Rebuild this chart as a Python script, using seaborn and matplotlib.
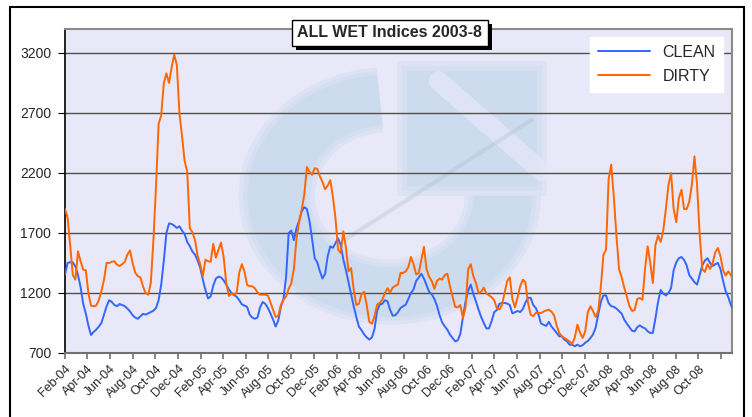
import pandas as pd
import matplotlib
matplotlib.use("Agg")
import matplotlib.pyplot as plt
import matplotlib.patheffects as pe
from matplotlib.patches import Rectangle, Wedge
from matplotlib.transforms import Affine2D
import seaborn as sns

# weekly index values, starting 2004-02-01
clean = [
    1353, 1450, 1456, 1456, 1420, 1350, 1250, 1110, 1030, 930,
    850, 875, 895, 920, 950, 1020, 1089, 1140, 1125, 1100,
    1090, 1108, 1100, 1090, 1070, 1047, 1015, 995, 985, 1006,
    1026, 1020, 1030, 1042, 1053, 1075, 1140, 1270, 1470, 1700,
    1780, 1775, 1761, 1742, 1756, 1720, 1690, 1625, 1590, 1545,
    1520, 1470, 1410, 1311, 1225, 1155, 1170, 1260, 1320, 1336,
    1330, 1305, 1270, 1230, 1200, 1183, 1168, 1140, 1105, 1095,
    1085, 1020, 995, 985, 995, 1080, 1125, 1110, 1075, 1030,
    978, 920, 970, 1085, 1150, 1330, 1700, 1720, 1640, 1740,
    1800, 1880, 1915, 1900, 1800, 1650, 1490, 1455, 1380, 1320,
    1360, 1506, 1589, 1576, 1615, 1655, 1600, 1480, 1390, 1290,
    1190, 1089, 1000, 920, 890, 855, 830, 812, 830, 900,
    1050, 1103, 1110, 1140, 1130, 1060, 1010, 1015, 1040, 1075,
    1089, 1103, 1150, 1200, 1230, 1300, 1330, 1360, 1320, 1265,
    1210, 1190, 1150, 1095, 1015, 955, 922, 894, 853, 825,
    797, 805, 860, 1000, 1130, 1220, 1270, 1190, 1130, 1060,
    1000, 950, 905, 905, 965, 1040, 1058, 1110, 1117, 1117,
    1112, 1100, 1030, 1040, 1050, 1041, 1065, 1120, 1160, 1160,
    1100, 1075, 1025, 945, 936, 925, 960, 922, 895, 868,
    839, 839, 811, 797, 769, 769, 756, 769, 756, 765,
    785, 800, 825, 855, 910, 1020, 1125, 1180, 1180, 1115,
    1090, 1085, 1070, 1050, 1028, 978, 945, 915, 885, 880,
    915, 930, 915, 905, 881, 867, 867, 990, 1125, 1225,
    1195, 1180, 1200, 1240, 1390, 1455, 1490, 1500, 1475, 1430,
    1350, 1320, 1290, 1270, 1350, 1430, 1470, 1490, 1450, 1425,
    1440, 1450, 1400, 1300, 1215, 1165, 1100, 1055,
]
dirty = [
    1900, 1830, 1600, 1350, 1311, 1547, 1464, 1394, 1390, 1200,
    1095, 1089, 1095, 1140, 1215, 1310, 1450, 1450, 1460, 1465,
    1435, 1425, 1440, 1460, 1520, 1555, 1450, 1370, 1340, 1330,
    1255, 1200, 1186, 1283, 1640, 2090, 2610, 2680, 2950, 3030,
    2950, 3080, 3186, 3100, 2700, 2506, 2300, 2210, 1740, 1705,
    1640, 1510, 1440, 1340, 1478, 1465, 1460, 1610, 1495, 1560,
    1620, 1500, 1280, 1175, 1195, 1186, 1200, 1370, 1440, 1380,
    1268, 1256, 1256, 1240, 1205, 1186, 1186, 1186, 1180, 1120,
    1060, 1000, 1010, 1100, 1144, 1170, 1235, 1280, 1400, 1650,
    1790, 1895, 2020, 2250, 2210, 2185, 2240, 2235, 2172, 2125,
    2065, 2095, 2140, 2000, 1820, 1560, 1533, 1714, 1580, 1380,
    1408, 1230, 1100, 1110, 1190, 1210, 1100, 960, 944, 1006,
    1103, 1117, 1144, 1200, 1240, 1205, 1245, 1260, 1270, 1367,
    1367, 1380, 1415, 1500, 1440, 1355, 1367, 1478, 1585, 1400,
    1335, 1300, 1235, 1300, 1320, 1311, 1350, 1360, 1256, 1170,
    1085, 1080, 1100, 990, 1080, 1400, 1440, 1339, 1283, 1200,
    1210, 1245, 1196, 1180, 1165, 1140, 1075, 1062, 1100, 1200,
    1300, 1330, 1150, 1080, 1165, 1256, 1311, 1290, 1120, 1020,
    1006, 1035, 1035, 1033, 1045, 1055, 1061, 1045, 1015, 930,
    867, 839, 825, 811, 795, 775, 830, 936, 870, 825,
    880, 1040, 1089, 1050, 1000, 1050, 1250, 1519, 1560, 2150,
    2270, 2000, 1680, 1400, 1330, 1245, 1170, 1090, 1050, 1058,
    1150, 1158, 1144, 1400, 1589, 1450, 1283, 1600, 1680, 1625,
    1720, 1900, 2100, 2200, 1900, 1790, 1990, 2060, 1900, 1900,
    1960, 2100, 2339, 2100, 1690, 1400, 1375, 1440, 1400, 1450,
    1540, 1575, 1506, 1390, 1345, 1380, 1350, 1297,
]

series_names = ["CLEAN", "DIRTY"]
series_colors = ["#3366FF", "#FF6600"]
y_ticks = [700, 1200, 1700, 2200, 2700, 3200]
tick_months = pd.date_range("2004-02-01", "2008-12-01", freq="2MS")
tick_labels = [d.strftime("%b-%y") for d in tick_months[:-1]] + [""]

dates = pd.date_range("2004-02-01", periods=len(clean), freq="7D")
df = pd.DataFrame({"date": dates, "CLEAN": clean, "DIRTY": dirty})
df = df.melt(id_vars="date", var_name="series", value_name="index")

sns.set_style("white")
plt.rcParams["font.family"] = ["Liberation Sans", "DejaVu Sans"]

fig = plt.figure(figsize=(7.52, 4.17), dpi=100)
ax = fig.add_axes([0.0864, 0.1535, 0.887, 0.777])
ax.set_facecolor("#E8E8F8")

# faint logo watermark behind the data (axes fractions), layered for soft edges
logo = "#B4CFE6"
ring_tf = Affine2D().scale(0.22, 0.386).translate(0.487, 0.485) + ax.transAxes
for grow in [0.03, 0.0, -0.03]:
    ax.add_patch(Wedge((0, 0), 1 + grow, 95, 360, width=0.46 + 2 * grow,
                       transform=ring_tf, fc=logo, ec="none", alpha=0.2,
                       zorder=0.5))
    ax.add_patch(Rectangle((0.505 - grow / 4, 0.5 - grow / 2),
                           0.21 + grow / 2, 0.385 + grow,
                           transform=ax.transAxes, fc=logo, ec="none",
                           alpha=0.2, zorder=0.5))
ax.plot([0.56, 0.715], [0.84, 0.56], transform=ax.transAxes,
        color="#E6E8F8", lw=14, alpha=0.7, zorder=0.6)
ax.plot([0.42, 0.7], [0.35, 0.72], transform=ax.transAxes,
        color="#A8B8CC", lw=3, alpha=0.3, zorder=0.6)

# horizontal gridlines
for y in y_ticks[1:]:
    ax.axhline(y, color="#505050", lw=1, zorder=1)

sns.lineplot(data=df, x="date", y="index", hue="series",
             palette=dict(zip(series_names, series_colors)),
             lw=1.4, ax=ax, zorder=3)

ax.set_ylim(700, 3400)
ax.set_xlim(pd.Timestamp("2004-02-01"), pd.Timestamp("2008-12-31"))
ax.set_yticks(y_ticks)
ax.set_xticks(tick_months)
ax.set_xticklabels(tick_labels, rotation=45, ha="right",
                   rotation_mode="anchor", fontsize=9)
ax.set_xlabel("")
ax.set_ylabel("")
ax.tick_params(axis="x", bottom=True, direction="out", length=4,
               color="#707070", width=1.2, pad=3)
ax.tick_params(axis="y", left=True, direction="out", length=5,
               color="black", labelsize=10, pad=5)

ax.spines["left"].set_color("black")
ax.spines["left"].set_linewidth(1.2)
ax.spines["bottom"].set_color("#707070")
ax.spines["bottom"].set_linewidth(1.5)
for side in ["top", "right"]:
    ax.spines[side].set_color("#8a8a8a")
    ax.spines[side].set_linewidth(1.5)

leg = ax.legend(title=None, loc="upper right", bbox_to_anchor=(0.987, 0.975),
                frameon=True, fancybox=False, facecolor="white",
                edgecolor="white", framealpha=1, fontsize=11.5,
                handlelength=3.2, borderaxespad=0, labelspacing=0.55,
                borderpad=0.5)
for line in leg.get_lines():
    line.set_linewidth(1.4)

# title in a white box with a drop shadow
title = fig.text(0.518, 0.921, "ALL WET Indices 2003-8", ha="center",
                 va="center", fontsize=11.5, fontweight="bold",
                 bbox=dict(boxstyle="square,pad=0.35", fc="white",
                           ec="black", lw=1))
title.get_bbox_patch().set_path_effects([
    pe.SimplePatchShadow(offset=(3, -3), shadow_rgbFace="black", alpha=1),
    pe.Normal()])

# outer chart frame
fig.add_artist(Rectangle((10 / 752, -0.02), 734 / 752, 1.02 - 7 / 417,
                         transform=fig.transFigure, fill=False,
                         ec="black", lw=1.5))

fig.savefig("out.png", dpi=100)
